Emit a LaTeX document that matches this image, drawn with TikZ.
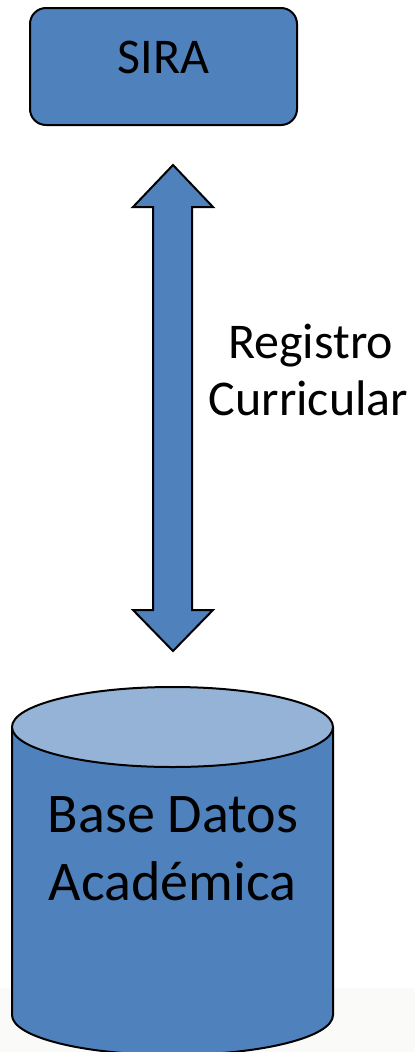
\documentclass[tikz,border=0pt]{standalone}
\usepackage{fontspec}
\setmainfont{Carlito}
\definecolor{blu}{HTML}{4F81BD}
\definecolor{lblu}{HTML}{95B3D7}
\definecolor{bgg}{HTML}{FAFAF8}
\tikzset{
  shapeline/.style={draw=black, line width=2pt, fill=blu},
  bigtext/.style={anchor=base, inner sep=0pt, font=\fontsize{50}{60}\selectfont},
  dbtext/.style={anchor=base, inner sep=0pt, font=\fontsize{56}{68}\selectfont}
}
\begin{document}
\begin{tikzpicture}[x=1pt,y=-1pt, line join=miter]
\useasboundingbox (0,0) rectangle (415,1052);
\fill[bgg] (0,988) rectangle (415,1052);
% SIRA box
\node[shapeline, rounded corners=16pt, minimum width=267pt, minimum height=117pt, inner sep=0pt] (sira) at (163.5,66.5) {};
\node[bigtext] (siratext) at (163.5,73) {SIRA};
% double block arrow
\coordinate (tiptop) at (173,165);
\coordinate (tipbot) at (173,651);
\draw[shapeline] (tiptop) -- (213,207) -- (192,207) -- (192,610) -- (213,610) -- (tipbot)
   -- (133,610) -- (153,610) -- (153,207) -- (133,207) -- cycle;
\node[bigtext] (reg1) at (310.5,358) {Registro};
\node[bigtext] (reg2) at (308.5,415) {Curricular};
% cylinder
\draw[shapeline] (12,727) -- (12,1015) arc[start angle=180, end angle=0, x radius=160.5, y radius=40] -- (333,727);
\draw[shapeline, fill=lblu] (172.5,727) ellipse [x radius=160.5, y radius=40];
\coordinate (db) at (172.5,870);
\node[dbtext] (db1) at (173,832) {Base Datos};
\node[dbtext] (db2) at (172.5,900) {Académica};
\end{tikzpicture}
\end{document}
